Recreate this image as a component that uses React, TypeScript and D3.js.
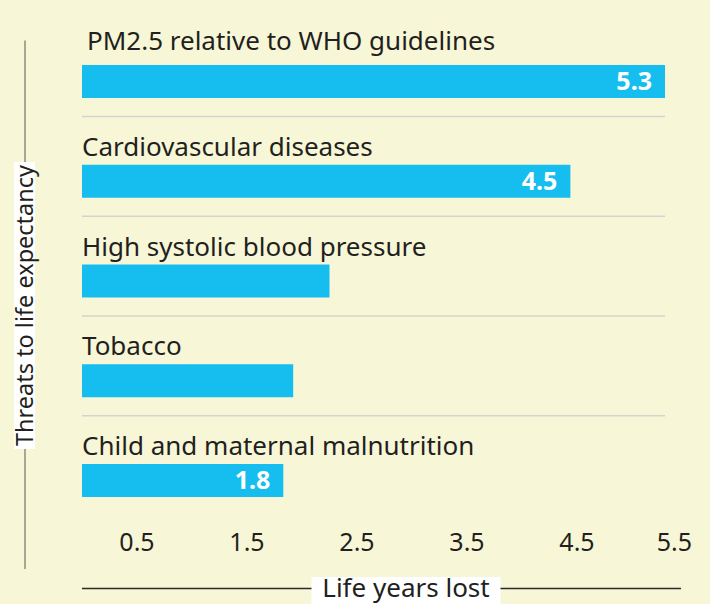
import React from 'react'
import * as d3 from 'd3'

// threats to life expectancy, in life years lost
const categories = [
  'PM2.5 relative to WHO guidelines',
  'Cardiovascular diseases',
  'High systolic blood pressure',
  'Tobacco',
  'Child and maternal malnutrition',
]
const values = [5.3, 4.44, 2.25, 1.92, 1.83]
const valueLabels = ['5.3', '4.5', '', '', '1.8']
const tickValues = [0.5, 1.5, 2.5, 3.5, 4.5, 5.5]
const xTitle = 'Life years lost'
const yTitle = 'Threats to life expectancy'

const W = 710
const H = 604
const BG = '#f7f7d7'
const BAR = '#16bef0'
const INK = '#231f20'
const FONT = '"Noto Sans", sans-serif'

export default function App() {
  const x = d3.scaleLinear().domain([0, 5.3]).range([82, 665])
  const y = d3.scaleBand<string>().domain(categories).range([65, 563.75]).padding(0)
  const barH = 33

  return (
    <svg width={W} height={H} style={{ position: 'absolute', left: 0, top: 0, background: BG }} fontFamily={FONT}>
      <rect x={0} y={0} width={W} height={H} fill={BG} />

      {categories.map((c, i) => {
        const top = y(c)!
        return (
          <g key={c}>
            <text
              x={i === 0 ? x(0) + 5 : x(0)}
              y={i === 0 ? top - 15 : top - 9}
              fontSize={26}
              fill={INK}
            >{c}</text>
            <rect x={x(0)} y={top} width={x(values[i]) - x(0)} height={barH} fill={BAR} />
            {valueLabels[i] && (
              <text
                x={x(values[i]) - 13}
                y={top + 25}
                fontSize={25}
                fontWeight={700}
                fill="#ffffff"
                textAnchor="end"
              >{valueLabels[i]}</text>
            )}
            {i < categories.length - 1 && (
              <line x1={x(0)} x2={x(5.3)} y1={top + 51.5} y2={top + 51.5} stroke="#d3d3cf" strokeWidth={1.5} />
            )}
          </g>
        )
      })}

      {/* bottom tick labels */}
      {tickValues.map(v => {
        const px = x(v)
        const clamp = px + 18 > 692
        return (
          <text
            key={v}
            x={clamp ? 692 : px}
            y={551}
            fontSize={25}
            fill={INK}
            textAnchor={clamp ? 'end' : 'middle'}
          >{d3.format('.1f')(v)}</text>
        )
      })}

      {/* x axis title */}
      <line x1={82} x2={681} y1={588.5} y2={588.5} stroke="#2a2a2a" strokeWidth={1.5} />
      <rect x={311.5} y={577} width={189} height={30} fill="#ffffff" />
      <text x={406} y={597} fontSize={26} fill={INK} textAnchor="middle">{xTitle}</text>

      {/* y axis title */}
      <line x1={25} x2={25} y1={40.5} y2={569} stroke="#8c8c80" strokeWidth={1.5} />
      <rect x={14} y={162} width={21} height={287} fill="#ffffff" />
      <text
        transform="translate(33,305.5) rotate(-90)"
        fontSize={23.5}
        fill={INK}
        textAnchor="middle"
      >{yTitle}</text>
    </svg>
  )
}
